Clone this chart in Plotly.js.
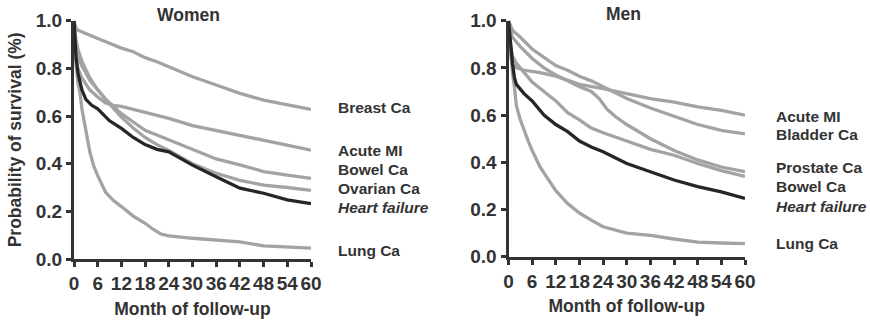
<!DOCTYPE html>
<html>
<head>
<meta charset="utf-8">
<script src="https://cdn.plot.ly/plotly-3.0.1.min.js"></script>
<style>html,body{margin:0;padding:0;background:#fff;}#chart{width:870px;height:322px;}</style>
</head>
<body>
<div id="chart"></div>
<script>
// ---------- Women ----------
const womenBreastX  = [0,0.5,1,3,6,9,12,15,18,21,24,27,30,36,42,48,54,60];
const womenBreastY  = [1.0,0.97,0.96,0.945,0.925,0.905,0.885,0.87,0.845,0.828,0.807,0.785,0.765,0.73,0.695,0.667,0.646,0.628];
const womenMIX      = [0,0.3,1,2,4,6,8,10,12,18,24,30,36,42,48,54,60];
const womenMIY      = [1.0,0.85,0.80,0.76,0.71,0.68,0.655,0.645,0.64,0.615,0.59,0.56,0.54,0.52,0.50,0.48,0.457];
const womenBowelX   = [0,0.5,1,2,4,6,8,10,12,15,18,21,24,30,36,42,48,54,60];
const womenBowelY   = [1.0,0.88,0.85,0.81,0.75,0.71,0.67,0.64,0.61,0.575,0.54,0.52,0.50,0.46,0.42,0.395,0.367,0.352,0.338];
const womenOvarianX = [0,0.5,1,2,4,6,8,10,12,15,18,21,24,30,36,42,48,54,60];
const womenOvarianY = [1.0,0.92,0.88,0.83,0.76,0.71,0.67,0.63,0.595,0.55,0.51,0.48,0.455,0.40,0.36,0.33,0.31,0.30,0.288];
const womenHFX      = [0,0.5,1,1.5,2,3,4.5,6,9,12,15,18,21,24,30,36,42,48,54,60];
const womenHFY      = [1.0,0.85,0.78,0.74,0.71,0.67,0.645,0.63,0.58,0.548,0.51,0.48,0.46,0.45,0.394,0.345,0.297,0.276,0.248,0.232];
const womenLungX    = [0,0.5,1,1.5,2,3,4,5,6,8,10,12,15,18,20,22,24,30,36,42,48,54,60];
const womenLungY    = [1.0,0.82,0.74,0.70,0.63,0.53,0.45,0.39,0.35,0.28,0.245,0.22,0.18,0.15,0.125,0.105,0.097,0.087,0.078,0.072,0.055,0.05,0.046];

// ---------- Men ----------
const menMIX        = [0,0.3,1,2,4,8,12,18,24,30,36,42,48,54,60];
const menMIY        = [1.0,0.88,0.82,0.80,0.79,0.78,0.765,0.73,0.712,0.69,0.67,0.655,0.635,0.62,0.60];
const menBladderX   = [0,1,3,6,9,12,15,18,21,24,30,36,42,48,54,60];
const menBladderY   = [1.0,0.96,0.93,0.88,0.845,0.81,0.79,0.765,0.745,0.72,0.67,0.63,0.595,0.56,0.535,0.52];
const menProstateX  = [0,1,3,6,9,12,15,18,21,23,25,27,30,36,42,48,54,60];
const menProstateY  = [1.0,0.93,0.89,0.84,0.80,0.77,0.745,0.72,0.70,0.67,0.625,0.595,0.56,0.50,0.45,0.41,0.38,0.36];
const menBowelX     = [0,0.5,1,2,4,6,9,12,15,18,21,24,30,36,42,48,54,60];
const menBowelY     = [1.0,0.90,0.85,0.82,0.78,0.74,0.70,0.66,0.61,0.58,0.545,0.525,0.49,0.455,0.43,0.395,0.365,0.34];
const menHFX        = [0,0.5,1,1.5,2,4,6,9,12,15,18,21,24,30,36,42,48,54,60];
const menHFY        = [1.0,0.90,0.82,0.76,0.73,0.69,0.66,0.60,0.56,0.53,0.49,0.465,0.445,0.395,0.36,0.325,0.297,0.275,0.247];
const menLungX      = [0,0.5,1,1.5,2,3,4,5,6,8,10,12,15,18,21,24,30,36,42,48,54,60];
const menLungY      = [1.0,0.88,0.78,0.72,0.64,0.58,0.53,0.49,0.45,0.38,0.33,0.28,0.225,0.185,0.155,0.127,0.10,0.09,0.075,0.062,0.058,0.055];

const monthTicks = [0,6,12,18,24,30,36,42,48,54,60];
const survTicks  = [0,0.2,0.4,0.6,0.8,1.0];
const survTickText = ['0.0','0.2','0.4','0.6','0.8','1.0'];

const womenLabels = ['Breast Ca','Acute MI','Bowel Ca','Ovarian Ca','<i>Heart failure</i>','Lung Ca'];
const menLabels   = ['Acute MI','Bladder Ca','Prostate Ca','Bowel Ca','<i>Heart failure</i>','Lung Ca'];

const GRAY = '#a3a3a3', BLACK = '#262626', AXIS = '#333333', TXT = '#333333';
const W = 870, H = 322;
const px = x => x / W;
const py = y => 1 - y / H;

function tr(x, y, xa, ya, color, name) {
  return {x: x, y: y, xaxis: xa, yaxis: ya, type: 'scatter', mode: 'lines', name: name,
          line: {color: color, width: 3.3, shape: 'linear'}, hoverinfo: 'skip', showlegend: false};
}

const data = [
  tr(womenBreastX, womenBreastY, 'x', 'y', GRAY, 'Breast Ca'),
  tr(womenMIX, womenMIY, 'x', 'y', GRAY, 'Acute MI'),
  tr(womenBowelX, womenBowelY, 'x', 'y', GRAY, 'Bowel Ca'),
  tr(womenOvarianX, womenOvarianY, 'x', 'y', GRAY, 'Ovarian Ca'),
  tr(womenLungX, womenLungY, 'x', 'y', GRAY, 'Lung Ca'),
  tr(womenHFX, womenHFY, 'x', 'y', BLACK, 'Heart failure'),
  tr(menMIX, menMIY, 'x2', 'y2', GRAY, 'Acute MI'),
  tr(menBladderX, menBladderY, 'x2', 'y2', GRAY, 'Bladder Ca'),
  tr(menProstateX, menProstateY, 'x2', 'y2', GRAY, 'Prostate Ca'),
  tr(menBowelX, menBowelY, 'x2', 'y2', GRAY, 'Bowel Ca'),
  tr(menLungX, menLungY, 'x2', 'y2', GRAY, 'Lung Ca'),
  tr(menHFX, menHFY, 'x2', 'y2', BLACK, 'Heart failure')
];

const tickFont = {family: 'Liberation Sans, Arial, sans-serif', size: 19, color: TXT, weight: 'bold'};
const titleFont = {family: 'Liberation Sans, Arial, sans-serif', size: 17.5, color: TXT, weight: 'bold'};
const labFont = {family: 'Liberation Sans, Arial, sans-serif', size: 15.5, color: TXT, weight: 'bold'};

function xax(domain, anchor) {
  return {domain: domain, anchor: anchor, range: [0, 60], tickvals: monthTicks, ticks: 'outside',
          ticklen: 5, tickwidth: 3, tickcolor: AXIS, showline: true, linewidth: 3, linecolor: AXIS,
          showgrid: false, zeroline: false, tickfont: tickFont, fixedrange: true,
          title: {text: '<b>Month of follow-up</b>', font: titleFont, standoff: 10}};
}
function yax(domain, anchor, withTitle) {
  const a = {domain: domain, anchor: anchor, range: [0, 1.0], tickvals: survTicks, ticktext: survTickText,
          ticks: 'outside', ticklen: 5, tickwidth: 3, tickcolor: AXIS, showline: true, linewidth: 3,
          linecolor: AXIS, showgrid: false, zeroline: false, tickfont: tickFont, fixedrange: true};
  if (withTitle) a.title = {text: '<b>Probability of survival (%)</b>', font: titleFont, standoff: 10};
  return a;
}

const annotations = [];
annotations.push({text: '<b>Women</b>', x: px(188), y: py(15), xref: 'paper', yref: 'paper',
  showarrow: false, xanchor: 'center', yanchor: 'middle', font: titleFont});
annotations.push({text: '<b>Men</b>', x: px(623), y: py(14), xref: 'paper', yref: 'paper',
  showarrow: false, xanchor: 'center', yanchor: 'middle', font: titleFont});
const womenLabelY = [108, 150, 169, 188, 207, 250];
const menLabelY = [116, 134, 167, 186, 206, 243];
womenLabels.forEach((t, i) => annotations.push({text: '<b>' + t + '</b>', x: px(336), y: py(womenLabelY[i]),
  xref: 'paper', yref: 'paper', showarrow: false, xanchor: 'left', yanchor: 'middle', font: labFont}));
menLabels.forEach((t, i) => annotations.push({text: '<b>' + t + '</b>', x: px(774), y: py(menLabelY[i]),
  xref: 'paper', yref: 'paper', showarrow: false, xanchor: 'left', yanchor: 'middle', font: labFont}));

const layout = {
  width: W, height: H, margin: {l: 0, r: 0, t: 0, b: 0},
  paper_bgcolor: '#ffffff', plot_bgcolor: '#ffffff', showlegend: false,
  xaxis: xax([px(74), px(311)], 'y'),
  yaxis: yax([py(259), py(20.7)], 'x', true),
  xaxis2: xax([px(508.5), px(745)], 'y2'),
  yaxis2: yax([py(256.7), py(20.7)], 'x2', false),
  annotations: annotations
};

Plotly.newPlot('chart', data, layout, {displayModeBar: false, staticPlot: true});
</script>
</body>
</html>
